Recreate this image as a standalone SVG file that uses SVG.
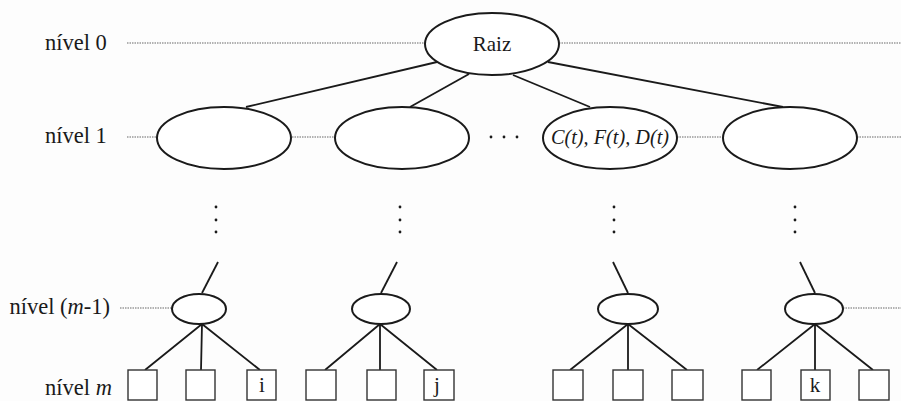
<svg xmlns="http://www.w3.org/2000/svg" width="901" height="401" viewBox="0 0 901 401">
<style>
.bg{fill:#fdfdfd}
.lbl{font-family:"Liberation Serif","Times New Roman",serif;font-size:22.5px;fill:#1a1a1a}
.in{font-family:"Liberation Serif","Times New Roman",serif;font-size:21px;fill:#1a1a1a}
.it{font-style:italic}
.node{fill:#fff;stroke:#1a1a1a;stroke-width:2}
.leaf{fill:#fff;stroke:#333;stroke-width:1.4}
.edge{stroke:#1a1a1a;stroke-width:1.8;fill:none}
.dot{stroke:#999;stroke-width:1.3;stroke-dasharray:1.5 1;fill:none}
.pt{fill:#1a1a1a}
</style>
<rect class="bg" x="0" y="0" width="901" height="401"/>
<g id="level-labels">
<text class="lbl" x="45" y="50">nível 0</text>
<text class="lbl" x="45" y="143">nível 1</text>
<text class="lbl" x="110" y="314" text-anchor="end">nível (<tspan class="it">m</tspan>-1)</text>
<text class="lbl" x="45" y="395">nível <tspan class="it">m</tspan></text>
</g>
<g id="guides">
<line class="dot" x1="127" y1="43" x2="425" y2="43"/>
<line class="dot" x1="559" y1="43" x2="901" y2="43"/>
<line class="dot" x1="127" y1="137" x2="157" y2="137"/>
<line class="dot" x1="292" y1="137" x2="335" y2="137"/>
<line class="dot" x1="677" y1="137" x2="722" y2="137"/>
<line class="dot" x1="857" y1="137" x2="901" y2="137"/>
<line class="dot" x1="120" y1="308" x2="172" y2="308"/>
<line class="dot" x1="843" y1="308" x2="901" y2="308"/>
</g>
<g id="connectors">
<line class="edge" x1="437" y1="62" x2="246" y2="107"/>
<line class="edge" x1="469" y1="74" x2="410" y2="107"/>
<line class="edge" x1="513" y1="75" x2="590" y2="107"/>
<line class="edge" x1="548" y1="62" x2="783" y2="107"/>
<line class="edge" x1="218" y1="262" x2="202" y2="293"/>
<line class="edge" x1="397" y1="262" x2="381" y2="293"/>
<line class="edge" x1="613" y1="262" x2="628" y2="293"/>
<line class="edge" x1="800" y1="262" x2="815" y2="293"/>
<path class="edge" d="M202 324 L145 370 M202 324 L201 370 M202 324 L260 370"/>
<path class="edge" d="M380 324 L325 370 M380 324 L380 370 M380 324 L437 370"/>
<path class="edge" d="M628 324 L570 370 M628 324 L628 370 M628 324 L687 370"/>
<path class="edge" d="M815 324 L757 370 M815 324 L815 370 M815 324 L873 370"/>
</g>
<g id="raiz"><ellipse class="node" cx="492" cy="44" rx="67" ry="31"/><text class="in" x="492" y="51" text-anchor="middle">Raiz</text></g>
<g id="n1a"><ellipse class="node" cx="224" cy="138" rx="67" ry="31"/></g>
<g id="n1b"><ellipse class="node" cx="402" cy="138" rx="67" ry="31"/></g>
<g id="ellipsis-h"><circle class="pt" cx="491" cy="137" r="1.4"/><circle class="pt" cx="504" cy="137" r="1.4"/><circle class="pt" cx="517" cy="137" r="1.4"/></g>
<g id="n1c"><ellipse class="node" cx="610" cy="138" rx="67" ry="31"/><text class="in it" x="610" y="144" text-anchor="middle" font-size="20" textLength="118" lengthAdjust="spacingAndGlyphs">C(t), F(t), D(t)</text></g>
<g id="n1d"><ellipse class="node" cx="790" cy="138" rx="67" ry="31"/></g>
<g id="vdots">
<circle class="pt" cx="216" cy="207" r="1.4"/><circle class="pt" cx="216" cy="220" r="1.4"/><circle class="pt" cx="216" cy="232" r="1.4"/>
<circle class="pt" cx="400" cy="207" r="1.4"/><circle class="pt" cx="400" cy="220" r="1.4"/><circle class="pt" cx="400" cy="232" r="1.4"/>
<circle class="pt" cx="614" cy="207" r="1.4"/><circle class="pt" cx="614" cy="220" r="1.4"/><circle class="pt" cx="614" cy="232" r="1.4"/>
<circle class="pt" cx="795" cy="207" r="1.4"/><circle class="pt" cx="795" cy="220" r="1.4"/><circle class="pt" cx="795" cy="232" r="1.4"/>
</g>
<g id="m1a"><ellipse class="node" cx="199" cy="309" rx="27" ry="15"/></g>
<g id="m1b"><ellipse class="node" cx="381" cy="309" rx="29" ry="15"/></g>
<g id="m1c"><ellipse class="node" cx="628" cy="309" rx="30" ry="15"/></g>
<g id="m1d"><ellipse class="node" cx="814" cy="309" rx="29" ry="15"/></g>
<g id="leaf1"><rect class="leaf" x="128" y="370" width="29" height="30"/></g>
<g id="leaf2"><rect class="leaf" x="186" y="370" width="29" height="30"/></g>
<g id="leaf3"><rect class="leaf" x="247" y="370" width="29" height="30"/><text class="in" x="262" y="392" text-anchor="middle" font-size="19">i</text></g>
<g id="leaf4"><rect class="leaf" x="306" y="370" width="30" height="30"/></g>
<g id="leaf5"><rect class="leaf" x="367" y="370" width="29" height="30"/></g>
<g id="leaf6"><rect class="leaf" x="424" y="370" width="30" height="30"/><text class="in" x="437" y="392" text-anchor="middle" font-size="19">j</text></g>
<g id="leaf7"><rect class="leaf" x="553" y="370" width="30" height="30"/></g>
<g id="leaf8"><rect class="leaf" x="613" y="370" width="30" height="30"/></g>
<g id="leaf9"><rect class="leaf" x="672" y="370" width="31" height="30"/></g>
<g id="leaf10"><rect class="leaf" x="742" y="370" width="29" height="30"/></g>
<g id="leaf11"><rect class="leaf" x="801" y="370" width="29" height="30"/><text class="in" x="815" y="392" text-anchor="middle" font-size="19">k</text></g>
<g id="leaf12"><rect class="leaf" x="859" y="370" width="30" height="30"/></g>
</svg>
